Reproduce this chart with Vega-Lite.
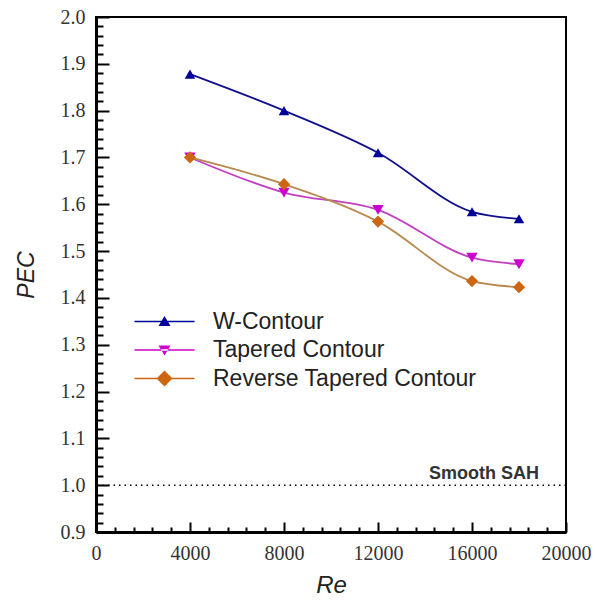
{
  "$schema": "https://vega.github.io/schema/vega-lite/v6.json",
  "width": 470,
  "height": 515,
  "autosize": {"type": "none"},
  "padding": {"left": 96, "top": 17, "right": 29, "bottom": 74},
  "background": "white",
  "config": {
    "view": {"stroke": "black", "strokeWidth": 2},
    "axis": {"grid": false}
  },
  "datasets": {
    "pec": [
      {"series": "W-Contour", "Re": 4000, "PEC": 1.878},
      {"series": "W-Contour", "Re": 8000, "PEC": 1.8},
      {"series": "W-Contour", "Re": 12000, "PEC": 1.71},
      {"series": "W-Contour", "Re": 16000, "PEC": 1.584},
      {"series": "W-Contour", "Re": 18000, "PEC": 1.569},
      {"series": "Tapered Contour", "Re": 4000, "PEC": 1.7},
      {"series": "Tapered Contour", "Re": 8000, "PEC": 1.625},
      {"series": "Tapered Contour", "Re": 12000, "PEC": 1.588},
      {"series": "Tapered Contour", "Re": 16000, "PEC": 1.486},
      {"series": "Tapered Contour", "Re": 18000, "PEC": 1.472},
      {"series": "Reverse Tapered Contour", "Re": 4000, "PEC": 1.7},
      {"series": "Reverse Tapered Contour", "Re": 8000, "PEC": 1.643},
      {"series": "Reverse Tapered Contour", "Re": 12000, "PEC": 1.563},
      {"series": "Reverse Tapered Contour", "Re": 16000, "PEC": 1.436},
      {"series": "Reverse Tapered Contour", "Re": 18000, "PEC": 1.423}
    ],
    "ref": [
      {"ref": 1.0, "label": "Smooth SAH"}
    ]
  },
  "layer": [
    {
      "data": {"name": "ref"},
      "mark": {"type": "rule", "color": "black", "strokeDash": [1.5, 4], "strokeWidth": 1.5},
      "encoding": {
        "y": {"field": "ref", "type": "quantitative", "scale": {"domain": [0.9, 2.0], "nice": false, "zero": false}, "axis": null}
      }
    },
    {
      "data": {"name": "ref"},
      "mark": {"type": "text", "align": "right", "baseline": "alphabetic", "dy": -6, "font": "Liberation Sans", "fontWeight": "bold", "fontSize": 18, "color": "#333"},
      "encoding": {
        "text": {"field": "label"},
        "x": {"datum": 18850, "type": "quantitative", "axis": null},
        "y": {"field": "ref", "type": "quantitative", "axis": null}
      }
    },
    {
      "data": {"name": "pec"},
      "mark": {"type": "line", "interpolate": "monotone", "strokeWidth": 1.8},
      "encoding": {
        "x": {
          "field": "Re", "type": "quantitative",
          "scale": {"domain": [0, 20000], "nice": false, "zero": false},
          "axis": {
            "orient": "bottom",
            "title": "Re",
            "values": [0,4000,8000,12000,16000,20000],
            "format": "d",
            "labelOverlap": false,
            "labelFlush": false,
            "labelFont": "Liberation Serif",
            "labelFontSize": 20,
            "labelColor": "#333",
            "labelPadding": 21,
            "tickSize": -10,
            "tickColor": "black",
            "tickWidth": 2,
            "domainColor": "black",
            "domainWidth": 3,
            "titleFont": "Liberation Sans",
            "titleFontStyle": "italic",
            "titleFontWeight": "normal",
            "titleFontSize": 24,
            "titleColor": "#222",
            "titlePadding": 10
          }
        },
        "y": {
          "field": "PEC", "type": "quantitative",
          "scale": {"domain": [0.9, 2.0], "nice": false, "zero": false},
          "axis": {
            "orient": "left",
            "title": "PEC",
            "values": [0.9,1.0,1.1,1.2,1.3,1.4,1.5,1.6,1.7,1.8,1.9,2.0],
            "format": ".1f",
            "labelOverlap": false,
            "labelFlush": false,
            "labelFont": "Liberation Serif",
            "labelFontSize": 20,
            "labelColor": "#333",
            "labelPadding": 24,
            "tickSize": -13,
            "tickColor": "black",
            "tickWidth": 2,
            "domainColor": "black",
            "domainWidth": 3,
            "titleFont": "Liberation Sans",
            "titleFontStyle": "italic",
            "titleFontWeight": "normal",
            "titleFontSize": 23,
            "titleColor": "#222",
            "titlePadding": 22
          }
        },
        "color": {
          "field": "series", "type": "nominal",
          "scale": {"domain": ["W-Contour", "Tapered Contour", "Reverse Tapered Contour"], "range": ["#10108f", "#c23fc2", "#b8894e"]},
          "legend": null
        },
        "detail": {"field": "series"}
      }
    },
    {
      "data": {"name": "pec"},
      "mark": {"type": "point", "filled": true, "opacity": 1},
      "encoding": {
        "x": {
          "field": "Re", "type": "quantitative",
          "axis": {
            "orient": "bottom", "title": null, "labels": false, "domain": false,
            "values": [800,1600,2400,3200,4800,5600,6400,7200,8800,9600,10400,11200,12800,13600,14400,15200,16800,17600,18400,19200],
            "tickSize": -5, "tickColor": "black", "tickWidth": 2
          }
        },
        "y": {
          "field": "PEC", "type": "quantitative",
          "axis": {
            "orient": "left", "title": null, "labels": false, "domain": false,
            "values": [0.92,0.94,0.96,0.98,1.02,1.04,1.06,1.08,1.12,1.14,1.16,1.18,1.22,1.24,1.26,1.28,1.32,1.34,1.36,1.38,1.42,1.44,1.46,1.48,1.52,1.54,1.56,1.58,1.62,1.64,1.66,1.68,1.72,1.74,1.76,1.78,1.82,1.84,1.86,1.88,1.92,1.94,1.96,1.98],
            "tickSize": -7, "tickColor": "black", "tickWidth": 2
          }
        },
        "color": {
          "field": "series", "type": "nominal",
          "scale": {"domain": ["W-Contour", "Tapered Contour", "Reverse Tapered Contour"], "range": ["#000099", "#cc00cc", "#cc6611"]},
          "legend": null
        },
        "shape": {
          "field": "series", "type": "nominal",
          "scale": {"domain": ["W-Contour", "Tapered Contour", "Reverse Tapered Contour"], "range": ["triangle-up", "triangle-down", "diamond"]},
          "legend": null
        },
        "size": {
          "field": "series", "type": "nominal",
          "scale": {"domain": ["W-Contour", "Tapered Contour", "Reverse Tapered Contour"], "range": [110, 150, 260]},
          "legend": null
        }
      }
    },
    {
      "data": {"name": "pec"},
      "mark": {"type": "point", "filled": true, "opacity": 0},
      "encoding": {
        "x": {"field": "Re", "type": "quantitative", "axis": null},
        "y": {"field": "PEC", "type": "quantitative", "axis": null},
        "color": {
          "field": "series", "type": "nominal",
          "scale": {"domain": ["W-Contour", "Tapered Contour", "Reverse Tapered Contour"], "range": ["#000099", "#cc00cc", "#cc6611"]},
          "legend": {"orient": "none", "legendX": 57, "legendY": 293, "title": null, "symbolOpacity": 1, "symbolSize": 400, "symbolStrokeWidth": 0, "labelFont": "Liberation Sans", "labelFontSize": 23, "labelColor": "#222", "labelOffset": 37, "labelLimit": 500, "rowPadding": 4.5}
        },
        "shape": {
          "field": "series", "type": "nominal",
          "scale": {"domain": ["W-Contour", "Tapered Contour", "Reverse Tapered Contour"], "range": [
            "M-3,-0.08H3V0.08H-3Z M0,-0.55L0.6,0.45H-0.6Z",
            "M-3,-0.08H3V0.08H-3Z M0,0.55L0.6,-0.45H-0.6Z",
            "M-3,-0.08H3V0.08H-3Z M0,-0.8L0.8,0L0,0.8L-0.8,0Z"
          ]},
          "legend": {"orient": "none", "legendX": 57, "legendY": 293, "title": null, "symbolOpacity": 1, "symbolSize": 400, "symbolStrokeWidth": 0, "labelFont": "Liberation Sans", "labelFontSize": 23, "labelColor": "#222", "labelOffset": 37, "labelLimit": 500, "rowPadding": 4.5}
        }
      }
    }
  ],
  "resolve": {
    "scale": {"color": "independent", "shape": "independent", "size": "independent"},
    "axis": {"x": "independent", "y": "independent"}
  }
}
